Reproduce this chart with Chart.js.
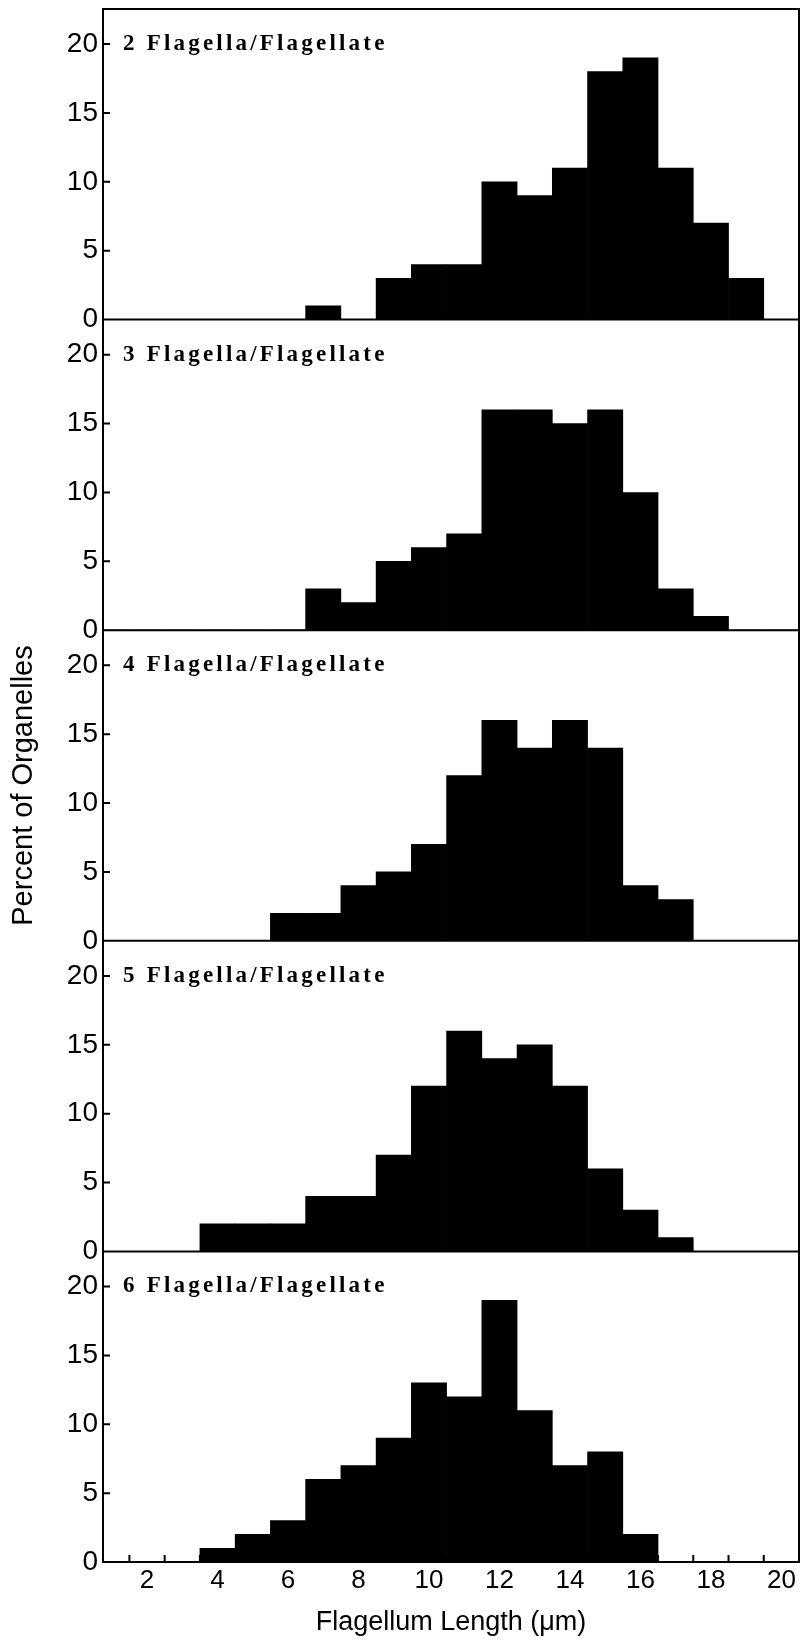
<!DOCTYPE html>
<html>
<head>
<meta charset="utf-8">
<title>Flagellum length histograms</title>
<script src="https://cdn.jsdelivr.net/npm/chart.js"></script>
<style>
  html, body { margin: 0; padding: 0; background: #fff; }
  #wrap { position: relative; width: 803px; height: 1644px; }
</style>
</head>
<body>
<div id="wrap"><canvas id="histChart"></canvas></div>
<script>
// bin centres, flagellum length (um)
const lengthBins = [1, 2, 3, 4, 5, 6, 7, 8, 9, 10, 11, 12, 13, 14, 15, 16, 17, 18, 19, 20];

// percent of organelles in each bin, one list per flagella count
const pct2 = [0, 0, 0, 0, 0, 0, 1, 0, 3, 4, 4, 10, 9, 11, 18, 19, 11, 7, 3, 0];
const pct3 = [0, 0, 0, 0, 0, 0, 3, 2, 5, 6, 7, 16, 16, 15, 16, 10, 3, 1, 0, 0];
const pct4 = [0, 0, 0, 0, 0, 2, 2, 4, 5, 7, 12, 16, 14, 16, 14, 4, 3, 0, 0, 0];
const pct5 = [0, 0, 0, 2, 2, 2, 4, 4, 7, 12, 16, 14, 15, 12, 6, 3, 1, 0, 0, 0];
const pct6 = [0, 0, 0, 1, 2, 3, 6, 7, 9, 13, 12, 19, 11, 7, 8, 2, 0, 0, 0, 0];

const panelLabels = [
  '2 Flagella/Flagellate',
  '3 Flagella/Flagellate',
  '4 Flagella/Flagellate',
  '5 Flagella/Flagellate',
  '6 Flagella/Flagellate'
];
const panelSeries = [pct2, pct3, pct4, pct5, pct6];

// axis ranges / ticks
const xMin = 0.75, xMax = 20.5, xStep = 2;
const yMax = 22.55, yStep = 5;
const captionLevel = 20;

const sansFont = '"Liberation Sans", Arial, sans-serif';

window.addEventListener("DOMContentLoaded", () => {
  const axisIds = panelLabels.map((_, i) => 'y' + i);

  const datasets = panelSeries.map((values, i) => ({
    label: panelLabels[i],
    data: lengthBins.map((len, j) => ({ x: len, y: values[j] })),
    yAxisID: axisIds[i],
    backgroundColor: '#000',
    borderWidth: 0,
    barPercentage: 1,
    categoryPercentage: 1,
    grouped: false
  }));

  const scales = {
    x: {
      type: 'linear',
      position: 'bottom',
      min: xMin,
      max: xMax,
      offset: false,
      grid: { display: false, drawTicks: false, offset: false },
      border: { display: false },
      ticks: {
        stepSize: xStep,
        includeBounds: false,
        autoSkip: false,
        maxRotation: 0,
        padding: 3,
        color: '#000',
        font: { family: sansFont, size: 26 }
      },
      title: {
        display: true,
        text: 'Flagellum Length (μm)',
        color: '#000',
        font: { family: sansFont, size: 27 },
        padding: { top: 0, bottom: 5 }
      },
      afterFit: (s) => { s.height = 82; }
    }
  };

  // stacked left axes get placed top-down in reverse order, so add the bottom panel first
  for (let i = axisIds.length - 1; i >= 0; i--) {
    scales[axisIds[i]] = {
      type: 'linear',
      position: 'left',
      stack: 'panels',
      stackWeight: 1,
      min: 0,
      max: yMax,
      grid: { display: false, drawTicks: false },
      border: { display: false },
      ticks: {
        stepSize: yStep,
        includeBounds: false,
        padding: 5,
        color: '#000',
        font: { family: sansFont, size: 28 }
      },
      title: {
        display: i === 2,
        text: 'Percent of Organelles',
        color: '#000',
        font: { family: sansFont, size: 29 },
        padding: { top: 7, bottom: 0 }
      },
      afterFit: (s) => {
        s.width = 103;
        s.paddingTop = 0;     // let the frame start at the layout padding
        s.paddingBottom = 0;
      }
    };
  }

  /* frame, panel separators, tick marks and captions */
  const panelFrame = {
    id: 'panelFrame',
    afterDatasetsDraw(chart) {
      const { ctx, chartArea, scales } = chart;
      ctx.save();
      ctx.strokeStyle = '#000';
      ctx.lineWidth = 2;
      ctx.strokeRect(chartArea.left, chartArea.top, chartArea.right - chartArea.left, chartArea.bottom - chartArea.top);
      ctx.beginPath();
      axisIds.forEach((id) => {
        const s = scales[id];
        ctx.moveTo(chartArea.left, s.bottom);
        ctx.lineTo(chartArea.right, s.bottom);
        s.ticks.forEach((t) => {
          const py = s.getPixelForValue(t.value);
          ctx.moveTo(chartArea.left, py);
          ctx.lineTo(chartArea.left + 7, py);
        });
      });
      // marks at the bin edges along the length axis
      const xs = scales.x;
      lengthBins.forEach((len) => {
        const px = xs.getPixelForValue(len - 0.5);
        if (px > chartArea.left + 3 && px < chartArea.right - 3) {
          ctx.moveTo(px, chartArea.bottom);
          ctx.lineTo(px, chartArea.bottom - 7);
        }
      });
      ctx.stroke();

      ctx.fillStyle = '#000';
      ctx.font = 'bold 23px "Liberation Serif", "DejaVu Serif", serif';
      ctx.letterSpacing = '3.2px';
      ctx.textBaseline = 'middle';
      ctx.textAlign = 'left';
      chart.data.datasets.forEach((ds) => {
        const s = scales[ds.yAxisID];
        ctx.fillText(ds.label, chartArea.left + 20, s.getPixelForValue(captionLevel));
      });
      ctx.restore();
    }
  };

  const histChart = new Chart(document.getElementById('histChart'), {
    type: 'bar',
    data: { labels: lengthBins, datasets: datasets },
    options: {
      responsive: true,
      maintainAspectRatio: false,
      animation: false,
      layout: { padding: { left: 0, right: 4, top: 9, bottom: 0 } },
      scales: scales,
      plugins: {
        legend: { display: false },
        tooltip: { enabled: false }
      }
    },
    plugins: [panelFrame]
  });
});
</script>
</body>
</html>
